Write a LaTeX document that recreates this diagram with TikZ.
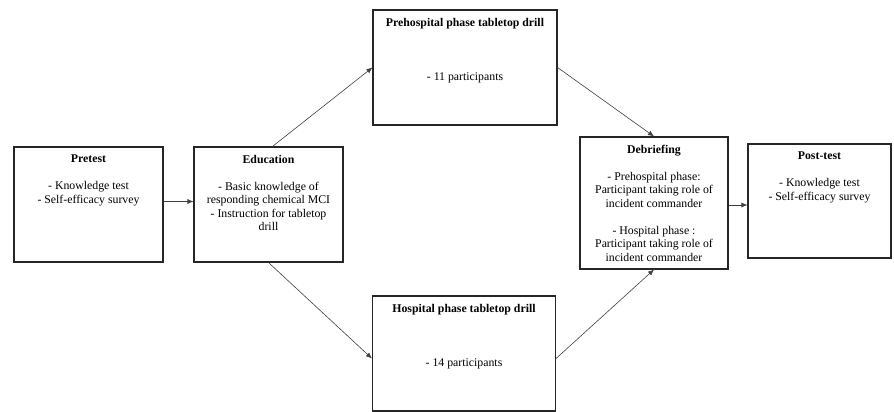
\documentclass[tikz,border=0pt]{standalone}
\usepackage{fontspec}
\setmainfont{Liberation Serif}
\usetikzlibrary{positioning,arrows.meta}

\tikzset{
  stage/.style={draw=black!85, line width=1.1pt, inner sep=0pt},
  stagetext/.style={align=center, inner sep=0pt, font=\fontsize{11.8}{13.5}\selectfont},
  flow/.style={-{Latex[length=6pt,width=5pt]}, draw=black!75, line width=0.6pt}
}

\begin{document}
\begin{tikzpicture}[x=1pt,y=1pt]
    \useasboundingbox (0,0) rectangle (894,412);
    % stage boxes
    \node[stage, minimum width=149pt, minimum height=115pt] (pre) at (88.5,207.5) {};
    \node[stage, minimum width=149pt, minimum height=115pt] (edu) at (268.5,207.5) {};
    \node[stage, minimum width=184pt, minimum height=115pt] (prehosp) at (465,344.5) {};
    \node[stage, minimum width=183pt, minimum height=115pt] (hosp) at (464,58.5) {};
    \node[stage, minimum width=148pt, minimum height=132pt] (debrief) at (654,209) {};
    \node[stage, minimum width=143pt, minimum height=114pt] (post) at (819.5,211) {};

    % texts inside the boxes
    \node[stagetext, below=8.5pt of pre.north] (pretxt)
      {\textbf{Pretest}\\[13.5pt] - Knowledge test\\ - Self-efficacy survey};
    \node[stagetext, below=8.5pt of edu.north] (edutxt)
      {\textbf{Education}\\[13.5pt] - Basic knowledge of\\ responding chemical MCI\\
       - Instruction for tabletop\\ drill};
    \node[stagetext, below=8.5pt of prehosp.north] (prehosptxt)
      {\textbf{Prehospital phase tabletop drill}\\[40.5pt] - 11 participants};
    \node[stagetext, below=8.5pt of hosp.north] (hosptxt)
      {\textbf{Hospital phase tabletop drill}\\[40.5pt] - 14 participants};
    \node[stagetext, below=8.5pt of debrief.north] (debrieftxt)
      {\textbf{Debriefing}\\[13.5pt] - Prehospital phase:\\ Participant taking role of\\
       incident commander\\[13.5pt] - Hospital phase :\\ Participant taking role of\\
       incident commander};
    \node[stagetext, below=8.5pt of post.north] (posttxt)
      {\textbf{Post-test}\\[13.5pt] - Knowledge test\\ - Self-efficacy survey};

    % flow between stages
    \draw[flow] ([yshift=3pt]pre.east) -- ([yshift=3pt]pre.east -| edu.west);
    \draw[flow] ([xshift=4pt]edu.north) -- (prehosp.west);
    \draw[flow] (prehosp.east) -- (debrief.north);
    \draw[flow] (edu.south) -- ([yshift=-5pt]hosp.west);
    \draw[flow] ([yshift=-5pt]hosp.east) -- (debrief.south);
    \draw[flow] ([yshift=-2pt]debrief.east) -- ([yshift=-2pt]debrief.east -| post.west);
\end{tikzpicture}
\end{document}
